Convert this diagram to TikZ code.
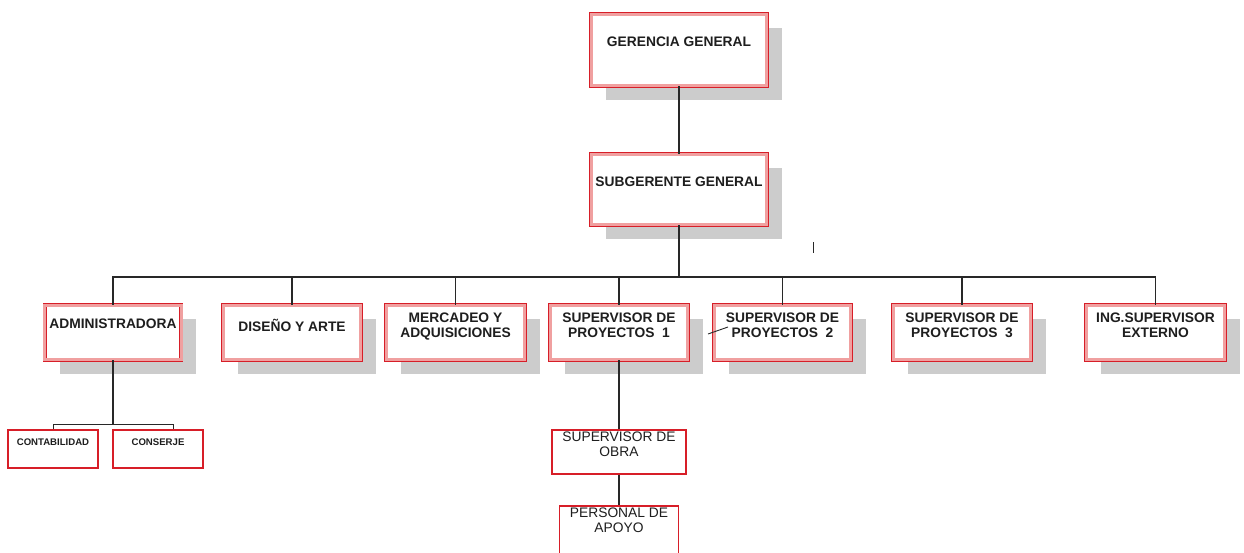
\documentclass[tikz,border=0pt]{standalone}
\usepackage{fontspec}
\setmainfont{Liberation Sans}
\usetikzlibrary{shadows}

\definecolor{boxred}{RGB}{215,30,40}
\definecolor{boxpink}{RGB}{240,160,160}
\definecolor{shadowgray}{RGB}{204,204,204}
\definecolor{linegray}{RGB}{40,40,40}
\definecolor{txt}{RGB}{30,30,30}

\tikzset{
  unitbox/.style={draw=boxred, line width=0.9pt, double=boxpink, double distance=2.6pt,
    fill=white, inner sep=0pt,
    drop shadow={shadow xshift=15pt, shadow yshift=-14pt, fill=shadowgray, opacity=1}},
  smallbox/.style={draw=boxred, line width=1.1pt, fill=white, inner sep=0pt},
  headtxt/.style={anchor=north, text=txt, align=center, inner sep=0pt,
    font=\fontsize{13.8}{14.5}\selectfont\bfseries},
  plaintxt/.style={anchor=north, text=txt, align=center, inner sep=0pt,
    font=\fontsize{13.8}{15}\selectfont},
  tinytxt/.style={anchor=north, text=txt, align=center, inner sep=0pt,
    font=\fontsize{9.6}{10}\selectfont\bfseries},
  link/.style={draw=linegray, line width=1.3pt},
}

\begin{document}
\begin{tikzpicture}[x=1pt,y=-1pt]
\useasboundingbox (0,0) rectangle (1244,552);
\clip (0,0) rectangle (1244,552);

% top management
\node[unitbox, minimum width=175.5, minimum height=71.5,
  label={[headtxt, yshift=-23pt]north:GERENCIA GENERAL}] (gg) at (679,50) {};
\node[unitbox, minimum width=175.5, minimum height=70.5,
  label={[headtxt, yshift=-23pt]north:SUBGERENTE GENERAL}] (sg) at (679,189.5) {};

% departments
\node[unitbox, minimum width=136.5, minimum height=54.5,
  label={[headtxt, yshift=-14pt]north:ADMINISTRADORA}] (adm) at (113,332.5) {};
\node[unitbox, minimum width=137.5, minimum height=54.5,
  label={[headtxt, yshift=-14pt]north:DISEÑO Y ARTE}] (dis) at (292,332.5) {};
\node[unitbox, minimum width=138.5, minimum height=54.5,
  label={[headtxt, yshift=-8pt]north:MERCADEO Y\\ADQUISICIONES}] (mer) at (455.5,332.5) {};
\node[unitbox, minimum width=137.5, minimum height=54.5,
  label={[headtxt, yshift=-8pt]north:SUPERVISOR DE\\PROYECTOS\ \ 1}] (sp1) at (619,332.5) {};
\node[unitbox, minimum width=136.5, minimum height=54.5,
  label={[headtxt, yshift=-8pt]north:SUPERVISOR DE\\PROYECTOS\ \ 2}] (sp2) at (782.5,332.5) {};
\node[unitbox, minimum width=137.5, minimum height=54.5,
  label={[headtxt, yshift=-8pt]north:SUPERVISOR DE\\PROYECTOS\ \ 3}] (sp3) at (962,332.5) {};
\node[unitbox, minimum width=138.5, minimum height=54.5,
  label={[headtxt, yshift=-8pt]north:ING.SUPERVISOR\\EXTERNO}] (ing) at (1155.5,332.5) {};

% administration staff
\node[smallbox, minimum width=90, minimum height=38,
  label={[tinytxt, yshift=-9pt]north:CONTABILIDAD}] (cont) at (53,449) {};
\node[smallbox, minimum width=90, minimum height=38,
  label={[tinytxt, yshift=-9pt]north:CONSERJE}] (cons) at (158,449) {};

% field staff
\node[smallbox, minimum width=134, minimum height=44,
  label={[plaintxt, yshift=-2pt]north:SUPERVISOR DE\\OBRA}] (obra) at (619,452) {};
\node[smallbox, minimum width=119, minimum height=64,
  label={[plaintxt, yshift=-2pt]north:PERSONAL DE\\APOYO}] (per) at (619,538) {};

% connectors
\coordinate (bus) at (679,277);
\coordinate (adminbus) at (113,424);
\draw[link] (gg.south) -- (sg.north);
\draw[link] (sg.south) -- (bus);
\draw[link] (adm.north) -- (adm.north |- bus) -- (ing.north |- bus) -- (ing.north);
\foreach \n in {dis,mer,sp1,sp2,sp3}
  \draw[link] (\n.north) -- (\n.north |- bus);

\draw[link] (adm.south) -- (adminbus);
\draw[link, line width=1pt] (cont.north) -- (cont.north |- adminbus)
  -- ([xshift=15pt]cons.north |- adminbus) -- ([xshift=15pt]cons.north);

\draw[link] (sp1.south) -- (obra.north);
\draw[link] (obra.south) -- (per.north);

% stray pen strokes
\coordinate (tickA) at (813,242);
\coordinate (tickB) at (813,253);
\draw[link, line width=1pt] (tickA) -- (tickB);
\coordinate (slashA) at (708,334);
\coordinate (slashB) at (728,327);
\draw[link, line width=0.9pt] (slashA) -- (slashB);
\end{tikzpicture}
\end{document}
